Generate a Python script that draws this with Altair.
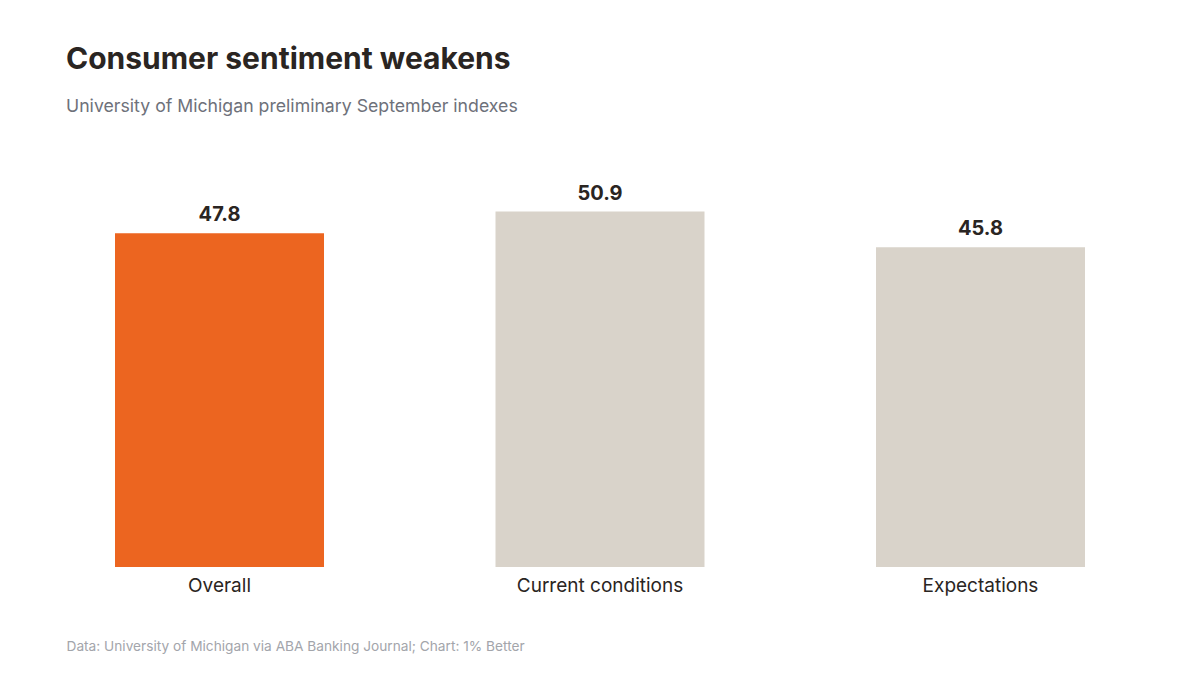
import altair as alt
import pandas as pd

categories = ["Overall", "Current conditions", "Expectations"]
values = [47.8, 50.9, 45.8]
colors = ["#EC6520", "#D9D3CA", "#D9D3CA"]

df = pd.DataFrame({"category": categories, "value": values, "color": colors})
FONT = "Inter"

x = alt.X(
    "category:N",
    sort=categories,
    scale=alt.Scale(paddingInner=0.4507, paddingOuter=0.1288),
    axis=alt.Axis(
        title="Data: University of Michigan via ABA Banking Journal; Chart: 1% Better",
        titleAnchor="start", titleAlign="left", titleBaseline="alphabetic",
        titleY=83, titleFont=FONT, titleFontSize=13.7, titleFontWeight="normal",
        titleColor="#A3A5AB",
        labelFont=FONT, labelFontSize=19, labelColor="#2A2522", labelPadding=9,
        labelAngle=0, domain=False, ticks=False,
    ),
)
y = alt.Y("value:Q", scale=alt.Scale(domain=[0, 60], nice=False),
          axis=None)

bars = alt.Chart(df).mark_bar().encode(
    x=x, y=y, color=alt.Color("color:N", scale=None)
)
labels = alt.Chart(df).mark_text(
    font=FONT, fontSize=20, fontWeight="bold", color="#2A2522",
    baseline="alphabetic", dy=-12,
).encode(x=alt.X("category:N", sort=categories), y=y,
         text=alt.Text("value:Q", format=".1f"))

chart = alt.layer(bars, labels).properties(
    width=1068, height=419,
    background="white",
    padding={"left": 58, "top": 140, "right": 58, "bottom": 108},
    autosize=alt.AutoSizeParams(type="none"),
    title=alt.Title(
        "Consumer sentiment weakens",
        subtitle="University of Michigan preliminary September indexes",
        anchor="start", frame="group", offset=32,
        font=FONT, fontSize=30, fontWeight="bold", color="#2A2522",
        subtitleFont=FONT, subtitleFontSize=17.7, subtitleColor="#6E717A",
        subtitlePadding=23,
    ),
).configure_view(strokeWidth=0, stroke=None)

chart.save("out.html", embed_options={"renderer": "svg", "actions": False})
